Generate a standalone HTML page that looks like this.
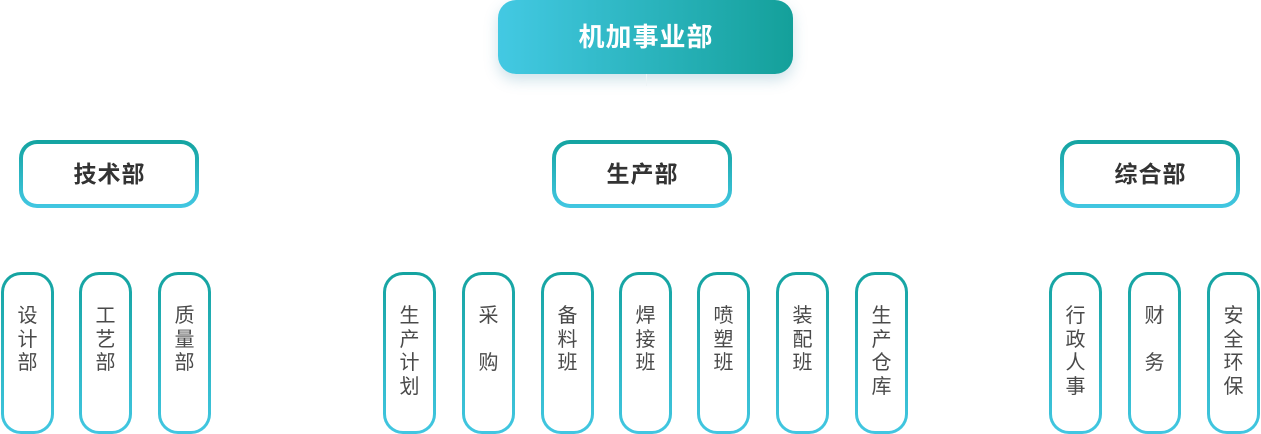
<!DOCTYPE html>
<html><head><meta charset="utf-8"><style>
body{margin:0;width:1261px;height:432px;background:#fff;position:relative;overflow:hidden;font-family:"Liberation Sans","Noto Sans CJK SC",sans-serif;}
.top{position:absolute;left:498px;top:0;width:295px;height:74px;border-radius:18px;background:linear-gradient(90deg,#43c9e3,#14a09a);box-shadow:0 6px 14px rgba(60,140,170,.25);color:#fff;font-weight:bold;font-size:26px;text-align:center;line-height:74px;letter-spacing:1px;text-indent:1px}
.mid{position:absolute;top:140px;width:172px;height:60px;border:4px solid transparent;border-radius:18px;background:linear-gradient(#fff,#fff) padding-box,linear-gradient(#14a3a0,#42c7e2) border-box;font-weight:bold;font-size:23px;color:#333;text-align:center;line-height:60px;letter-spacing:1px;text-indent:1px}
.s{position:absolute;top:272px;width:47px;border:3px solid transparent;border-radius:20px;background:linear-gradient(#fff,#fff) padding-box,linear-gradient(#14a3a0,#42c7e2) border-box;font-size:20px;color:#4a4a4a;text-align:center;line-height:23.5px;padding-top:30px;box-sizing:content-box;height:126px}
</style></head><body>
<div class="top">机加事业部</div>
<div style="position:absolute;left:646px;top:74px;width:1px;height:12px;background:#eef4f6"></div>
<div class="mid" style="left:19px">技术部</div>
<div class="mid" style="left:552px">生产部</div>
<div class="mid" style="left:1060px">综合部</div>
<div class="s" style="left:1px">设<br>计<br>部</div>
<div class="s" style="left:79px">工<br>艺<br>部</div>
<div class="s" style="left:158px">质<br>量<br>部</div>
<div class="s" style="left:383px">生<br>产<br>计<br>划</div>
<div class="s" style="left:462px">采<br><br>购</div>
<div class="s" style="left:541px">备<br>料<br>班</div>
<div class="s" style="left:619px">焊<br>接<br>班</div>
<div class="s" style="left:697px">喷<br>塑<br>班</div>
<div class="s" style="left:776px">装<br>配<br>班</div>
<div class="s" style="left:855px">生<br>产<br>仓<br>库</div>
<div class="s" style="left:1049px">行<br>政<br>人<br>事</div>
<div class="s" style="left:1128px">财<br><br>务</div>
<div class="s" style="left:1207px">安<br>全<br>环<br>保</div>
</body></html>
